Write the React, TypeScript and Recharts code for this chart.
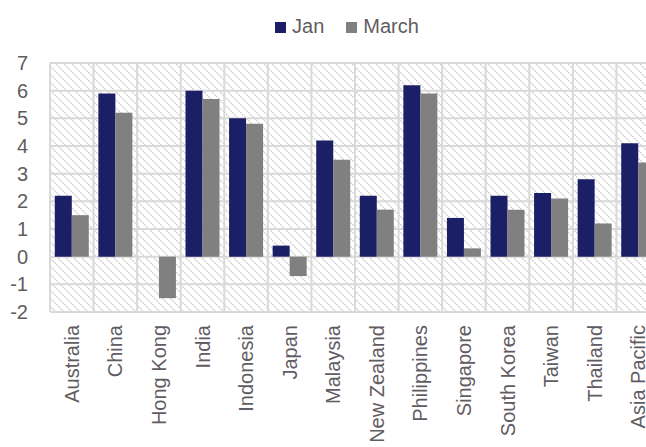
import { BarChart, Bar, XAxis, YAxis, CartesianGrid, Legend } from "recharts";

const countries = [
  "Australia",
  "China",
  "Hong Kong",
  "India",
  "Indonesia",
  "Japan",
  "Malaysia",
  "New Zealand",
  "Philippines",
  "Singapore",
  "South Korea",
  "Taiwan",
  "Thailand",
  "Asia Pacific",
];
const jan = [2.2, 5.9, 0, 6.0, 5.0, 0.4, 4.2, 2.2, 6.2, 1.4, 2.2, 2.3, 2.8, 4.1];
const march = [1.5, 5.2, -1.5, 5.7, 4.8, -0.7, 3.5, 1.7, 5.9, 0.3, 1.7, 2.1, 1.2, 3.4];
const yTicks = [-2, -1, 0, 1, 2, 3, 4, 5, 6, 7];

const data = countries.map((name, i) => ({ name, Jan: jan[i], March: march[i] }));

const TEXT = "#625c62";
const FONT = "'Liberation Sans', Arial, sans-serif";

function CountryTick({ x, y, payload }: any) {
  return (
    <text
      transform={`translate(${x},${y}) rotate(-90)`}
      textAnchor="end"
      dominantBaseline="central"
      fill={TEXT}
      fontSize={20}
      fontFamily={FONT}
    >
      {payload.value}
    </text>
  );
}

// vertical lines sit on the category boundaries, not on the tick centres
const boundaryLines = ({ offset }: any) =>
  countries.map((_, i) => offset.left + (offset.width / countries.length) * i).concat(offset.left + offset.width);

export default function App() {
  return (
    // the plot runs past the right edge of the window, as in the original
    <div style={{ position: "absolute", left: 8, top: 8, width: 638, height: 439, overflow: "hidden" }}>
      <BarChart
        width={652}
        height={439}
        data={data}
        margin={{ top: 32, right: 0, bottom: 0, left: 0 }}
        barCategoryGap="11%"
        barGap={0}
      >
        <defs>
          <pattern id="hatch" width="8" height="8" patternUnits="userSpaceOnUse">
            <rect width="8" height="8" fill="#ffffff" />
            <path d="M0,0 L8,8 M-2,6 L2,10 M6,-2 L10,2" stroke="#cbcbcb" strokeWidth={1.2} strokeDasharray="2 1" />
          </pattern>
        </defs>
        <Legend
          verticalAlign="top"
          iconType="square"
          iconSize={11}
          wrapperStyle={{ fontFamily: FONT, fontSize: 20, top: 7, left: 24 }}
          formatter={(value: string) => (
            <span style={{ color: TEXT, marginLeft: 2, marginRight: 12 }}>{value}</span>
          )}
        />
        <CartesianGrid
          fill="url(#hatch)"
          fillOpacity={1}
          stroke="#d9d9d9"
          strokeWidth={2}
          verticalCoordinatesGenerator={boundaryLines}
        />
        <XAxis
          dataKey="name"
          interval={0}
          axisLine={false}
          tickLine={false}
          tickSize={0}
          tickMargin={13}
          height={135}
          tick={<CountryTick />}
        />
        <YAxis
          domain={[-2, 7]}
          ticks={yTicks}
          interval={0}
          width={42}
          axisLine={false}
          tickLine={false}
          tickMargin={16}
          tick={{ fill: TEXT, fontSize: 20, fontFamily: FONT }}
        />
        <Bar dataKey="Jan" fill="#1b1f66" isAnimationActive={false} />
        <Bar dataKey="March" fill="#808080" isAnimationActive={false} />
      </BarChart>
    </div>
  );
}
